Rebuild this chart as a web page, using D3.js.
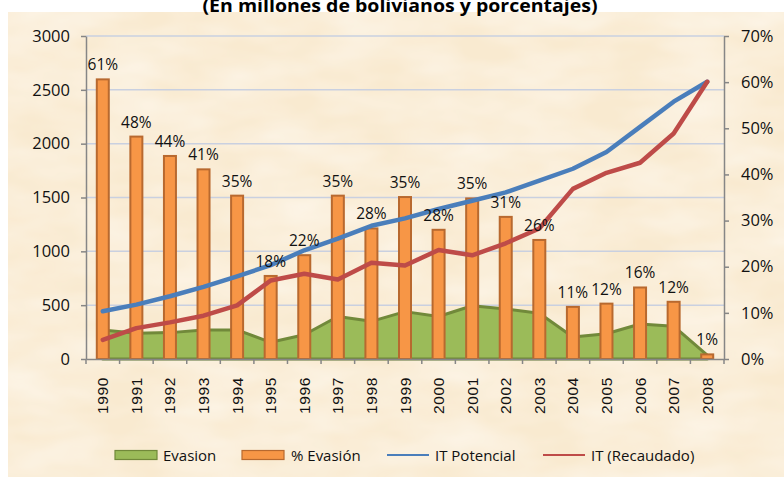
<!DOCTYPE html>
<html>
<head>
<meta charset="utf-8">
<script src="https://cdn.jsdelivr.net/npm/d3@7"></script>
<style>
  body { margin: 0; background: #fff; }
  svg { display: block; font-family: "Open Sans", sans-serif; }
</style>
</head>
<body>
<div id="chart"></div>
<script>
var years = ["1990","1991","1992","1993","1994","1995","1996","1997","1998","1999",
             "2000","2001","2002","2003","2004","2005","2006","2007","2008"];
// millones de bolivianos
var evasion = [270,240,245,270,270,155,225,395,350,440,395,495,465,425,205,235,325,305,35];
var itPotencial = [443,505,583,670,768,872,1010,1118,1237,1306,1393,1470,1548,1657,1767,1922,2156,2390,2575];
var itRecaudado = [178,287,340,402,498,729,792,739,895,869,1012,963,1075,1212,1580,1729,1823,2094,2575];
// porcentaje de evasion
var pctEvasion = [60.6,48.2,44.0,41.1,35.4,18.0,22.5,35.4,28.3,35.1,28.0,34.8,30.8,25.8,11.3,12.0,15.5,12.4,1.0];
var pctLabels = ["61%","48%","44%","41%","35%","18%","22%","35%","28%","35%","28%","35%","31%","26%","11%","12%","16%","12%","1%"];
var leftTicks = [0,500,1000,1500,2000,2500,3000];
var rightTicks = [0,0.1,0.2,0.3,0.4,0.5,0.6,0.7];

var width = 784, height = 477;
var plotL = 86, plotR = 724, plotT = 36, plotB = 359;

var svg = d3.select('#chart').append('svg')
    .attr('width', width)
    .attr('height', height);

// fondo tipo pergamino
var defs = svg.append('defs');
var filt = defs.append('filter').attr('id', 'paper')
    .attr('x', 0).attr('y', 0).attr('width', '100%').attr('height', '100%');
filt.append('feTurbulence').attr('type', 'fractalNoise')
    .attr('baseFrequency', '0.012 0.03').attr('numOctaves', 3).attr('seed', 4);
filt.append('feColorMatrix').attr('type', 'matrix')
    .attr('values', '0 0 0 0 1  0 0 0 0 0.98  0 0 0 0 0.95  0 0 0 -0.8 0.6');
filt.append('feComposite').attr('in2', 'SourceGraphic').attr('operator', 'in');

svg.append('rect').attr('x', 8).attr('y', 12)
    .attr('width', width - 8).attr('height', height - 12)
    .attr('fill', '#F9EAD0');
svg.append('rect').attr('x', 8).attr('y', 12)
    .attr('width', width - 8).attr('height', height - 12)
    .attr('fill', '#fff')
    .attr('filter', 'url(#paper)');

// titulo (cortado arriba)
svg.append('text')
    .attr('x', 400).attr('y', 12)
    .attr('text-anchor', 'middle')
    .attr('font-weight', 700)
    .attr('font-size', 18)
    .attr('textLength', 395)
    .attr('lengthAdjust', 'spacingAndGlyphs')
    .attr('fill', '#000')
    .text('(En millones de bolivianos y porcentajes)');

// escalas
var x = d3.scaleBand().domain(years).range([plotL, plotR]);
var yL = d3.scaleLinear().domain([0, 3000]).range([plotB, plotT]);
var yR = d3.scaleLinear().domain([0, 0.7]).range([plotB, plotT]);
var cx = function(i) { return x(years[i]) + x.bandwidth() / 2; };

// rejilla
svg.append('g').selectAll('line')
    .data(leftTicks.slice(1))
    .enter().append('line')
    .attr('x1', plotL).attr('x2', plotR)
    .attr('y1', d => yL(d)).attr('y2', d => yL(d))
    .attr('stroke', '#C9D0E0')
    .attr('stroke-width', 1.5);

// area Evasion
var area = d3.area()
    .x((d, i) => cx(i))
    .y0(yL(0))
    .y1(d => yL(d));
svg.append('path')
    .datum(evasion)
    .attr('d', area)
    .attr('fill', '#9BBB59')
    .attr('stroke', '#71893A')
    .attr('stroke-width', 3)
    .attr('stroke-linejoin', 'round');

// barras % Evasion
var barW = 12;
svg.append('g').selectAll('rect')
    .data(pctEvasion)
    .enter().append('rect')
    .attr('x', (d, i) => cx(i) - barW / 2)
    .attr('y', d => yR(d / 100))
    .attr('width', barW)
    .attr('height', d => yR(0) - yR(d / 100))
    .attr('fill', '#F79646')
    .attr('stroke', '#B8692F')
    .attr('stroke-width', 2);

// lineas
var lineL = d3.line().x((d, i) => cx(i)).y(d => yL(d));
svg.append('path').datum(itPotencial)
    .attr('d', lineL)
    .attr('fill', 'none')
    .attr('stroke', '#4A7EBB')
    .attr('stroke-width', 4.5)
    .attr('stroke-linejoin', 'round')
    .attr('stroke-linecap', 'round');
svg.append('path').datum(itRecaudado)
    .attr('d', lineL)
    .attr('fill', 'none')
    .attr('stroke', '#BE4B48')
    .attr('stroke-width', 4.5)
    .attr('stroke-linejoin', 'round')
    .attr('stroke-linecap', 'round');

// etiquetas de barras
svg.append('g').selectAll('text')
    .data(pctEvasion)
    .enter().append('text')
    .attr('x', (d, i) => cx(i))
    .attr('y', d => yR(d / 100) - 9)
    .attr('text-anchor', 'middle')
    .attr('font-size', 15.5)
    .attr('fill', '#111')
    .text((d, i) => pctLabels[i]);

// ejes
var axisColor = '#868686';
var gx = svg.append('g')
    .attr('transform', 'translate(0,' + plotB + ')')
    .call(d3.axisBottom(x).tickSize(0).tickFormat(''));
gx.select('.domain').attr('stroke', axisColor).attr('stroke-width', 1.5);
gx.selectAll('.tickmark')
    .data(d3.range(years.length + 1))
    .enter().append('line')
    .attr('x1', i => plotL + i * x.bandwidth())
    .attr('x2', i => plotL + i * x.bandwidth())
    .attr('y1', 0).attr('y2', 5)
    .attr('stroke', axisColor).attr('stroke-width', 1.5);
gx.selectAll('.yr')
    .data(years)
    .enter().append('text')
    .attr('transform', (d, i) => 'translate(' + (cx(i) + 5.5) + ',' + 18 + ') rotate(-90)')
    .attr('text-anchor', 'end')
    .attr('font-size', 15.5)
    .attr('letter-spacing', 0.6)
    .attr('fill', '#111')
    .text(d => d);

var gl = svg.append('g')
    .attr('transform', 'translate(' + plotL + ',0)')
    .call(d3.axisLeft(yL).tickValues(leftTicks).tickFormat(d3.format('d'))
        .tickSize(5).tickPadding(11).tickSizeOuter(0));
gl.select('.domain').attr('stroke', axisColor).attr('stroke-width', 1.5);
gl.selectAll('.tick line').attr('stroke', axisColor).attr('stroke-width', 1.5);
gl.selectAll('.tick text').attr('font-size', 16.5).attr('fill', '#111')
    .attr('font-family', '"Open Sans", sans-serif');

var gr = svg.append('g')
    .attr('transform', 'translate(' + plotR + ',0)')
    .call(d3.axisRight(yR).tickValues(rightTicks).tickFormat(d3.format('.0%'))
        .tickSize(5).tickPadding(12).tickSizeOuter(0));
gr.select('.domain').attr('stroke', axisColor).attr('stroke-width', 1.5);
gr.selectAll('.tick line').attr('stroke', axisColor).attr('stroke-width', 1.5);
gr.selectAll('.tick text').attr('font-size', 16.5).attr('fill', '#111')
    .attr('font-family', '"Open Sans", sans-serif');

// leyenda
var legend = [
    { name: 'Evasion', type: 'box', fill: '#9BBB59', stroke: '#71893A', x: 115, tx: 163 },
    { name: '% Evasión', type: 'box', fill: '#F79646', stroke: '#B8692F', x: 242, tx: 291 },
    { name: 'IT Potencial', type: 'line', stroke: '#4A7EBB', x: 387, tx: 435 },
    { name: 'IT (Recaudado)', type: 'line', stroke: '#BE4B48', x: 543, tx: 591 }
];
var ly = 455;
var lg = svg.append('g').selectAll('g').data(legend).enter().append('g');
lg.filter(d => d.type == 'box').append('rect')
    .attr('x', d => d.x).attr('y', ly - 4.5)
    .attr('width', 42).attr('height', 9)
    .attr('fill', d => d.fill)
    .attr('stroke', d => d.stroke).attr('stroke-width', 1.2);
lg.filter(d => d.type == 'line').append('line')
    .attr('x1', d => d.x).attr('x2', d => d.x + 42)
    .attr('y1', ly).attr('y2', ly)
    .attr('stroke', d => d.stroke).attr('stroke-width', 2);
lg.append('text')
    .attr('x', d => d.tx).attr('y', ly + 5.5)
    .attr('font-size', 15)
    .attr('fill', '#111')
    .text(d => d.name);
</script>
</body>
</html>
